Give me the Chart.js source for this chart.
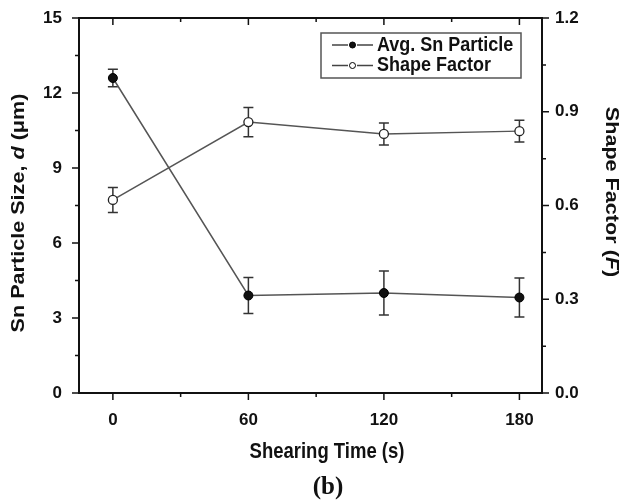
<!DOCTYPE html>
<html>
<head>
<meta charset="utf-8">
<script src="https://cdn.jsdelivr.net/npm/chart.js@4.4.0/dist/chart.umd.min.js"></script>
<style>
html, body { margin: 0; padding: 0; background: #fff; }
#wrap { width: 622px; height: 500px; }
</style>
</head>
<body>
<div id="wrap"><canvas id="chart"></canvas></div>
<script>
// values
const shearTime = [0, 60, 120, 180];
const snSize = [12.6, 3.9, 4.0, 3.82];
const snErr = [0.35, 0.72, 0.88, 0.78];
const shapeFactor = [0.618, 0.867, 0.829, 0.838];
const shapeErr = [0.04, 0.047, 0.035, 0.035];

const xTicks = [0, 60, 120, 180];
const leftTicks = [0, 3, 6, 9, 12, 15];
const rightTicks = [0, 0.3, 0.6, 0.9, 1.2];

const boldFont = '"Liberation Sans", Arial, sans-serif';

function midpoints(arr) {
    let out = [];
    for (let i = 0; i < arr.length - 1; i++) out.push((arr[i] + arr[i + 1]) / 2);
    return out;
}

function errBars(chart, values, errs, scaleId) {
    const ctx = chart.ctx;
    const xs = chart.scales.x;
    const ys = chart.scales[scaleId];
    ctx.save();
    ctx.strokeStyle = '#333';
    ctx.lineWidth = 1.5;
    for (let i = 0; i < values.length; i++) {
        const px = xs.getPixelForValue(shearTime[i]);
        const top = ys.getPixelForValue(values[i] + errs[i]);
        const bot = ys.getPixelForValue(values[i] - errs[i]);
        ctx.beginPath();
        ctx.moveTo(px, top); ctx.lineTo(px, bot);
        ctx.moveTo(px - 5, top); ctx.lineTo(px + 5, top);
        ctx.moveTo(px - 5, bot); ctx.lineTo(px + 5, bot);
        ctx.stroke();
    }
    ctx.restore();
}

// text in the figure looks a little stretched along its height, so draw it scaled
function stretchText(ctx, parts, cx, cy, rot, size, sx, sy, align) {
    ctx.save();
    ctx.translate(cx, cy);
    ctx.rotate(rot);
    ctx.scale(sx, sy);
    let total = 0;
    parts.forEach(p => { ctx.font = p[1] + ' ' + size + 'px ' + boldFont; total += ctx.measureText(p[0]).width; });
    let x = align === 'left' ? 0 : -total / 2;
    ctx.textAlign = 'left';
    ctx.textBaseline = 'middle';
    parts.forEach(p => {
        ctx.font = p[1] + ' ' + size + 'px ' + boldFont;
        ctx.fillText(p[0], x, 0);
        x += ctx.measureText(p[0]).width;
    });
    ctx.restore();
}

const decorations = {
    id: 'decorations',
    beforeDatasetsDraw(chart) {
        errBars(chart, snSize, snErr, 'y');
        errBars(chart, shapeFactor, shapeErr, 'y1');
    },
    afterDraw(chart) {
        const ctx = chart.ctx;
        const a = chart.chartArea;
        const xs = chart.scales.x, yl = chart.scales.y, yr = chart.scales.y1;
        ctx.save();
        ctx.strokeStyle = '#111';
        ctx.lineWidth = 2;
        ctx.strokeRect(a.left, a.top, a.right - a.left, a.bottom - a.top);

        ctx.lineWidth = 1.5;
        ctx.beginPath();
        // x ticks: outward at bottom, inward at top
        xTicks.forEach(v => {
            const p = xs.getPixelForValue(v);
            ctx.moveTo(p, a.bottom); ctx.lineTo(p, a.bottom + 7);
            ctx.moveTo(p, a.top); ctx.lineTo(p, a.top + 7);
        });
        midpoints(xTicks).forEach(v => {
            const p = xs.getPixelForValue(v);
            ctx.moveTo(p, a.bottom); ctx.lineTo(p, a.bottom + 4);
            ctx.moveTo(p, a.top); ctx.lineTo(p, a.top + 4);
        });
        leftTicks.forEach(v => {
            const p = yl.getPixelForValue(v);
            ctx.moveTo(a.left, p); ctx.lineTo(a.left - 7, p);
        });
        midpoints(leftTicks).forEach(v => {
            const p = yl.getPixelForValue(v);
            ctx.moveTo(a.left, p); ctx.lineTo(a.left - 4, p);
        });
        rightTicks.forEach(v => {
            const p = yr.getPixelForValue(v);
            ctx.moveTo(a.right, p); ctx.lineTo(a.right + 7, p);
        });
        midpoints(rightTicks).forEach(v => {
            const p = yr.getPixelForValue(v);
            ctx.moveTo(a.right, p); ctx.lineTo(a.right + 4, p);
        });
        ctx.stroke();

        // legend
        const lx = 321, ly = 33, lw = 200, lh = 45;
        ctx.lineWidth = 1.5;
        ctx.strokeStyle = '#555';
        ctx.strokeRect(lx, ly, lw, lh);
        ctx.fillStyle = '#111';
        chart.data.datasets.forEach((ds, i) => {
            const cy = ly + 12 + i * 20.5;
            ctx.strokeStyle = '#444';
            ctx.lineWidth = 1.3;
            ctx.beginPath();
            ctx.moveTo(lx + 11, cy); ctx.lineTo(lx + 27, cy);
            ctx.moveTo(lx + 36, cy); ctx.lineTo(lx + 52, cy);
            ctx.stroke();
            ctx.beginPath();
            ctx.arc(lx + 31.5, cy, 3, 0, Math.PI * 2);
            ctx.fillStyle = ds.pointBackgroundColor;
            ctx.fill();
            ctx.strokeStyle = '#000';
            ctx.lineWidth = 1;
            ctx.stroke();
            ctx.fillStyle = '#111';
            stretchText(ctx, [[ds.label, 'bold']], lx + 56, cy, 0, 18, 1, 1.15, 'left');
        });

        // axis titles
        stretchText(ctx, [['Shearing Time (s)', 'bold']], 327, 452, 0, 18.5, 1, 1.15);
        stretchText(ctx, [['Sn Particle Size, ', 'bold'], ['d', 'italic bold'], [' (\u03bcm)', 'bold']],
            19, 213, -Math.PI / 2, 18, 1.2, 1);
        stretchText(ctx, [['Shape Factor (', 'bold'], ['F', 'italic bold'], [')', 'bold']],
            611, 192, Math.PI / 2, 18, 1.2, 1);

        ctx.font = 'bold 25px "Liberation Serif", "Times New Roman", serif';
        ctx.textAlign = 'center';
        ctx.textBaseline = 'middle';
        ctx.fillText('(b)', 328, 488);
        ctx.restore();
    }
};

const ctx = document.getElementById('chart').getContext('2d');
const dataset = {
    datasets: [{
        label: 'Avg. Sn Particle',
        data: shearTime.map((t, i) => ({ x: t, y: snSize[i] })),
        yAxisID: 'y',
        borderColor: '#555',
        borderWidth: 1.5,
        pointRadius: 4.5,
        pointBackgroundColor: '#111',
        pointBorderColor: '#000',
        pointBorderWidth: 1
    }, {
        label: 'Shape Factor',
        data: shearTime.map((t, i) => ({ x: t, y: shapeFactor[i] })),
        yAxisID: 'y1',
        borderColor: '#555',
        borderWidth: 1.5,
        pointRadius: 4.5,
        pointBackgroundColor: '#fff',
        pointBorderColor: '#222',
        pointBorderWidth: 1.3
    }]
};

const tickFont = { family: boldFont, size: 17, weight: 'bold' };

function noPad(s) {
    s.paddingTop = 0; s.paddingBottom = 0;
    s.paddingLeft = 0; s.paddingRight = 0;
}

const config = {
    type: 'line',
    data: dataset,
    options: {
        responsive: true,
        maintainAspectRatio: false,
        animation: false,
        layout: { padding: { top: 18, left: 0, right: 0, bottom: 0 } },
        scales: {
            x: {
                type: 'linear',
                min: -15,
                max: 190,
                afterBuildTicks: s => { s.ticks = xTicks.map(v => ({ value: v })); },
                afterFit: s => { s.height = 107; noPad(s); },
                grid: { display: false, drawTicks: false },
                border: { display: false },
                ticks: { font: tickFont, color: '#111', padding: 17, maxRotation: 0 }
            },
            y: {
                position: 'left',
                min: 0,
                max: 15,
                afterBuildTicks: s => { s.ticks = leftTicks.map(v => ({ value: v })); },
                afterFit: s => { s.width = 79; noPad(s); },
                grid: { display: false, drawTicks: false },
                border: { display: false },
                ticks: { font: tickFont, color: '#111', padding: 17 }
            },
            y1: {
                position: 'right',
                min: 0,
                max: 1.2,
                afterBuildTicks: s => { s.ticks = rightTicks.map(v => ({ value: v })); },
                afterFit: s => { s.width = 80; noPad(s); },
                grid: { display: false, drawTicks: false },
                border: { display: false },
                ticks: { font: tickFont, color: '#111', padding: 13, callback: v => v.toFixed(1) }
            }
        },
        plugins: {
            legend: { display: false },
            tooltip: { enabled: false }
        }
    },
    plugins: [decorations]
};

const myChart = new Chart(ctx, config);
</script>
</body>
</html>
